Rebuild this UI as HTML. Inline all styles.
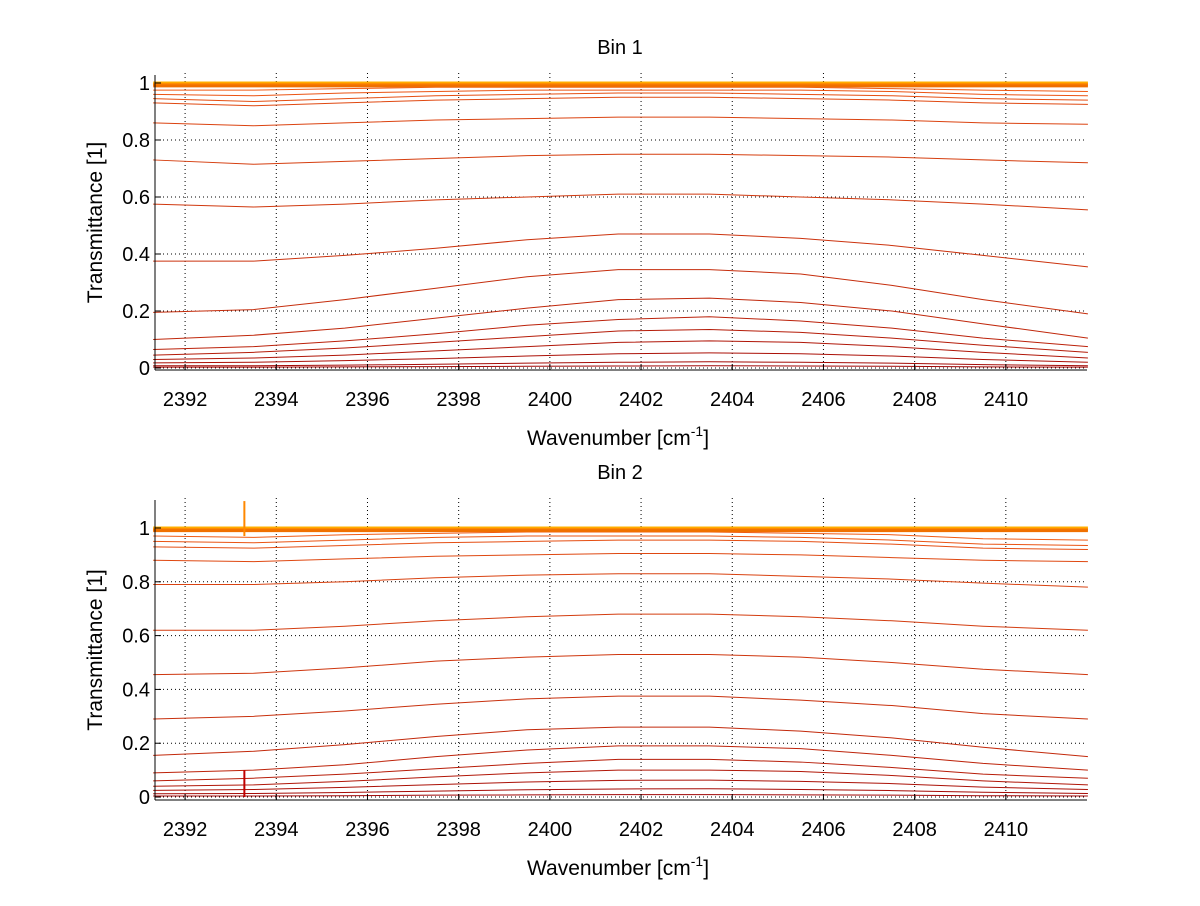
<!DOCTYPE html>
<html><head><meta charset="utf-8"><style>
body{margin:0;background:#fff;}
svg text{font-family:"Liberation Sans",sans-serif;fill:#000;}
</style></head><body>
<svg id="fig" width="1200" height="901" viewBox="0 0 1200 901" xmlns="http://www.w3.org/2000/svg"></svg>
<script>
const xTicks=[2392,2394,2396,2398,2400,2402,2404,2406,2408,2410];
const yTicks=[0,0.2,0.4,0.6,0.8,1];
const xs=[2391.3,2393.5,2395.5,2397.5,2399.5,2401.5,2403.5,2405.5,2407.5,2409.5,2411.8];
const bin1=[
[0.975,0.975,0.98,0.985,0.985,0.985,0.985,0.985,0.98,0.975,0.97],
[0.96,0.955,0.965,0.97,0.975,0.975,0.975,0.975,0.97,0.96,0.955],
[0.945,0.935,0.945,0.955,0.96,0.965,0.965,0.96,0.955,0.945,0.94],
[0.93,0.92,0.93,0.94,0.945,0.95,0.95,0.945,0.94,0.93,0.925],
[0.86,0.85,0.86,0.87,0.875,0.88,0.88,0.875,0.87,0.86,0.855],
[0.73,0.715,0.725,0.735,0.745,0.75,0.75,0.745,0.74,0.73,0.72],
[0.575,0.565,0.575,0.59,0.6,0.61,0.61,0.6,0.59,0.575,0.555],
[0.375,0.375,0.395,0.42,0.45,0.47,0.47,0.455,0.43,0.395,0.355],
[0.195,0.205,0.24,0.28,0.32,0.345,0.345,0.33,0.29,0.24,0.19],
[0.1,0.115,0.14,0.175,0.21,0.24,0.245,0.23,0.2,0.155,0.105],
[0.065,0.075,0.095,0.12,0.15,0.17,0.18,0.165,0.14,0.105,0.075],
[0.045,0.055,0.07,0.09,0.11,0.13,0.135,0.125,0.105,0.08,0.055],
[0.03,0.035,0.045,0.06,0.075,0.09,0.095,0.09,0.075,0.055,0.035],
[0.018,0.02,0.026,0.033,0.042,0.05,0.053,0.05,0.042,0.03,0.02],
[0.008,0.008,0.01,0.013,0.017,0.02,0.022,0.02,0.017,0.012,0.008],
[0.003,0.003,0.004,0.005,0.006,0.007,0.008,0.007,0.006,0.004,0.003]
];
const bin2=[
[0.97,0.965,0.975,0.98,0.985,0.985,0.985,0.98,0.975,0.96,0.955],
[0.95,0.945,0.955,0.965,0.97,0.97,0.97,0.965,0.955,0.94,0.935],
[0.93,0.925,0.935,0.945,0.95,0.955,0.955,0.95,0.94,0.925,0.92],
[0.88,0.875,0.885,0.895,0.9,0.905,0.905,0.9,0.89,0.88,0.875],
[0.79,0.79,0.8,0.815,0.825,0.83,0.83,0.82,0.81,0.795,0.78],
[0.62,0.62,0.635,0.655,0.67,0.68,0.68,0.67,0.655,0.635,0.62],
[0.455,0.46,0.48,0.505,0.52,0.53,0.53,0.52,0.5,0.475,0.455],
[0.29,0.3,0.32,0.345,0.365,0.375,0.375,0.36,0.34,0.31,0.29],
[0.155,0.17,0.195,0.225,0.25,0.26,0.26,0.245,0.22,0.185,0.15],
[0.09,0.1,0.12,0.15,0.175,0.19,0.19,0.18,0.155,0.125,0.1],
[0.06,0.07,0.085,0.105,0.125,0.14,0.14,0.13,0.11,0.085,0.07],
[0.04,0.045,0.058,0.075,0.09,0.1,0.1,0.095,0.08,0.06,0.045],
[0.025,0.028,0.036,0.046,0.056,0.062,0.063,0.058,0.05,0.037,0.028],
[0.012,0.013,0.017,0.022,0.027,0.03,0.031,0.028,0.024,0.018,0.013],
[0.004,0.004,0.005,0.007,0.008,0.009,0.009,0.008,0.007,0.005,0.004]
];
const spikeX=[2393.3];
const spikeTop=[1.1];
const spikeLow=[0.1];
const panels=[
 {name:'bin-1',title:'Bin 1',data:bin1,top:75,bot:370,ymin:-0.007,ymax:1.028,spikes:false},
 {name:'bin-2',title:'Bin 2',data:bin2,top:500,bot:800,ymin:-0.011,ymax:1.104,spikes:true}
];
const L=155,R=1087,XMIN=2391.34,XMAX=2411.78;
const NS='http://www.w3.org/2000/svg';
const svg=document.getElementById('fig');
function el(t,a,p){const e=document.createElementNS(NS,t);for(const k in a)e.setAttribute(k,a[k]);(p||svg).appendChild(e);return e;}
const sx=v=>L+(v-XMIN)/(XMAX-XMIN)*(R-L);
function colorFor(i,n){const t=i/(n-1);const r=Math.round(240-t*80);const g=Math.round(90-t*85);const b=Math.round(20-t*15);return `rgb(${r},${g},${b})`;}
panels.forEach(p=>{
 const g=el('g',{});
 
 
 const sy=v=>p.bot-(v-p.ymin)/(p.ymax-p.ymin)*(p.bot-p.top);
 xTicks.forEach(t=>{const l=el('line',{x1:sx(t),x2:sx(t),y1:p.top-2,y2:p.bot,stroke:'#000','stroke-width':1,'stroke-dasharray':'1,3'},g);
  });
 yTicks.forEach(t=>{const l=el('line',{x1:L,x2:R,y1:sy(t),y2:sy(t),stroke:'#000','stroke-width':1,'stroke-dasharray':'1,3'},g);
  });
 const n=p.data.length;
 p.data.forEach((s,i)=>{const pl=el('polyline',{points:s.map((v,j)=>sx(xs[j])+','+sy(v)).join(' '),fill:'none',stroke:colorFor(i,n),'stroke-width':1},g);
  });
 const band=[1,0.995,0.99];
 band.forEach((v,i)=>{const pl=el('polyline',{points:xs.map(x=>sx(x)+','+sy(v)).join(' '),fill:'none',stroke:['#ffb000','#ff8c00','#f07000'][i],'stroke-width':3},g);
  });
 if(p.spikes){spikeX.forEach((x,k)=>{
  const a=el('line',{x1:sx(x),x2:sx(x),y1:sy(0.97),y2:sy(spikeTop[k]),stroke:'#ff8800','stroke-width':2},g);
  
  const b=el('line',{x1:sx(x),x2:sx(x),y1:sy(0),y2:sy(spikeLow[k]),stroke:'#c00000','stroke-width':2},g);
  });}
 const ax=el('line',{x1:L,x2:R,y1:p.bot,y2:p.bot,stroke:'#000','stroke-width':1},g);
 
 const ay=el('line',{x1:L,x2:L,y1:p.top,y2:p.bot,stroke:'#000','stroke-width':1},g);
 
 xTicks.forEach(t=>{el('line',{x1:sx(t),x2:sx(t),y1:p.bot,y2:p.bot-6,stroke:'#000'},g);
  const tx=el('text',{x:sx(t),y:p.bot+36,'text-anchor':'middle','font-size':20},g);tx.textContent=t;
  });
 yTicks.forEach(t=>{el('line',{x1:L,x2:L+6,y1:sy(t),y2:sy(t),stroke:'#000'},g);
  const tx=el('text',{x:L-5,y:sy(t)+7,'text-anchor':'end','font-size':20},g);tx.textContent=String(t);
  });
 const ti=el('text',{x:620,y:p.top-21,'text-anchor':'middle','font-size':20},g);ti.textContent=p.title;
 
 const yl=el('text',{x:0,y:0,'text-anchor':'middle','font-size':21,transform:`translate(102,${(p.top+p.bot)/2}) rotate(-90)`},g);yl.textContent='Transmittance [1]';
 
 const xl=el('text',{x:618,y:p.bot+75,'text-anchor':'middle','font-size':21},g);
 
 xl.innerHTML='Wavenumber [cm<tspan dy="-9" font-size="14">-1</tspan><tspan dy="9">]</tspan>';
});
</script>
</body></html>
